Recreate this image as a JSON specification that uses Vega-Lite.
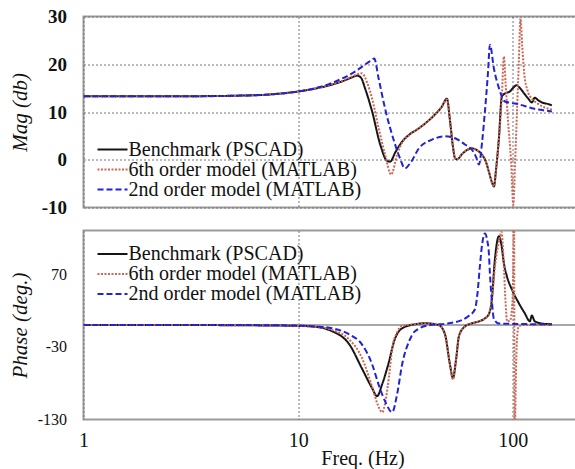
{
  "$schema": "https://vega.github.io/schema/vega-lite/v6.json",
  "padding": {"left": 7.5, "top": 6.5, "right": 0, "bottom": 0},
  "background": "white",
  "config": {
    "view": {"stroke": "#9a9a9a", "strokeWidth": 2},
    "font": "Times New Roman, Liberation Serif, DejaVu Serif, serif",
    "axis": {
      "labelFont": "Times New Roman, Liberation Serif, DejaVu Serif, serif", "labelFontSize": 20, "labelColor": "#111111",
      "titleFont": "Times New Roman, Liberation Serif, DejaVu Serif, serif", "titleFontSize": 21, "titleColor": "#111111", "titleFontWeight": "normal",
      "gridColor": "#777777", "gridDash": [2, 2], "gridWidth": 1,
      "domain": false, "ticks": false, "labelFlush": false
    },
    "legend": {
      "orient": "none", "title": null, "labelFont": "Times New Roman, Liberation Serif, DejaVu Serif, serif", "labelFontSize": 20, "labelColor": "#111111",
      "symbolType": "M-3,0H3", "symbolSize": 100, "symbolStrokeWidth": 2, "labelOffset": 6, "padding": 0, "rowPadding": 0, "labelLimit": 400
    }
  },
  "datasets": {
    "mag": [
      {"s": "Benchmark (PSCAD)", "f": 1, "v": 13.3}, {"s": "Benchmark (PSCAD)", "f": 1.5, "v": 13.3}, {"s": "Benchmark (PSCAD)", "f": 2, "v": 13.3}, {"s": "Benchmark (PSCAD)", "f": 3, "v": 13.3}, {"s": "Benchmark (PSCAD)", "f": 4, "v": 13.35}, {"s": "Benchmark (PSCAD)", "f": 5, "v": 13.4}, {"s": "Benchmark (PSCAD)", "f": 6, "v": 13.5}, {"s": "Benchmark (PSCAD)", "f": 7, "v": 13.6}, {"s": "Benchmark (PSCAD)", "f": 8, "v": 13.8}, {"s": "Benchmark (PSCAD)", "f": 10, "v": 14.3}, {"s": "Benchmark (PSCAD)", "f": 12, "v": 14.9}, {"s": "Benchmark (PSCAD)", "f": 14, "v": 15.6}, {"s": "Benchmark (PSCAD)", "f": 16, "v": 16.4}, {"s": "Benchmark (PSCAD)", "f": 17.5, "v": 17.1}, {"s": "Benchmark (PSCAD)", "f": 18.8, "v": 17.6}, {"s": "Benchmark (PSCAD)", "f": 19.6, "v": 17.2}, {"s": "Benchmark (PSCAD)", "f": 20.5, "v": 14.9}, {"s": "Benchmark (PSCAD)", "f": 22.1, "v": 10.1}, {"s": "Benchmark (PSCAD)", "f": 24.1, "v": 3.2}, {"s": "Benchmark (PSCAD)", "f": 25.9, "v": -0.2}, {"s": "Benchmark (PSCAD)", "f": 26.8, "v": -0.4}, {"s": "Benchmark (PSCAD)", "f": 28.3, "v": 1.5}, {"s": "Benchmark (PSCAD)", "f": 30.5, "v": 3.8}, {"s": "Benchmark (PSCAD)", "f": 33, "v": 5.3}, {"s": "Benchmark (PSCAD)", "f": 36.5, "v": 6.6}, {"s": "Benchmark (PSCAD)", "f": 40, "v": 8.0}, {"s": "Benchmark (PSCAD)", "f": 43.4, "v": 9.5}, {"s": "Benchmark (PSCAD)", "f": 46.5, "v": 11.0}, {"s": "Benchmark (PSCAD)", "f": 49.3, "v": 12.8}, {"s": "Benchmark (PSCAD)", "f": 51, "v": 8}, {"s": "Benchmark (PSCAD)", "f": 52.5, "v": 3}, {"s": "Benchmark (PSCAD)", "f": 53.8, "v": 0.3}, {"s": "Benchmark (PSCAD)", "f": 55, "v": 0.1}, {"s": "Benchmark (PSCAD)", "f": 58, "v": 1.2}, {"s": "Benchmark (PSCAD)", "f": 61, "v": 2.0}, {"s": "Benchmark (PSCAD)", "f": 64.4, "v": 2.4}, {"s": "Benchmark (PSCAD)", "f": 68, "v": 2.0}, {"s": "Benchmark (PSCAD)", "f": 71.7, "v": 1.1}, {"s": "Benchmark (PSCAD)", "f": 75, "v": -0.5}, {"s": "Benchmark (PSCAD)", "f": 77.3, "v": -2.5}, {"s": "Benchmark (PSCAD)", "f": 80, "v": -4.8}, {"s": "Benchmark (PSCAD)", "f": 81.6, "v": -5.6}, {"s": "Benchmark (PSCAD)", "f": 83.5, "v": -2}, {"s": "Benchmark (PSCAD)", "f": 86.1, "v": 4.5}, {"s": "Benchmark (PSCAD)", "f": 88.8, "v": 13.2}, {"s": "Benchmark (PSCAD)", "f": 92, "v": 13.9}, {"s": "Benchmark (PSCAD)", "f": 96.8, "v": 14.3}, {"s": "Benchmark (PSCAD)", "f": 100, "v": 15.0}, {"s": "Benchmark (PSCAD)", "f": 104, "v": 15.6}, {"s": "Benchmark (PSCAD)", "f": 108, "v": 15.0}, {"s": "Benchmark (PSCAD)", "f": 113.7, "v": 13.7}, {"s": "Benchmark (PSCAD)", "f": 118, "v": 12.8}, {"s": "Benchmark (PSCAD)", "f": 122.5, "v": 12.0}, {"s": "Benchmark (PSCAD)", "f": 126.5, "v": 13.0}, {"s": "Benchmark (PSCAD)", "f": 131, "v": 12.5}, {"s": "Benchmark (PSCAD)", "f": 136.5, "v": 12.0}, {"s": "Benchmark (PSCAD)", "f": 145, "v": 11.7}, {"s": "Benchmark (PSCAD)", "f": 152, "v": 11.4},

      {"s": "6th order model (MATLAB)", "f": 1, "v": 13.3}, {"s": "6th order model (MATLAB)", "f": 2, "v": 13.3}, {"s": "6th order model (MATLAB)", "f": 3, "v": 13.3}, {"s": "6th order model (MATLAB)", "f": 5, "v": 13.4}, {"s": "6th order model (MATLAB)", "f": 7, "v": 13.6}, {"s": "6th order model (MATLAB)", "f": 10, "v": 14.3}, {"s": "6th order model (MATLAB)", "f": 12, "v": 14.9}, {"s": "6th order model (MATLAB)", "f": 14, "v": 15.7}, {"s": "6th order model (MATLAB)", "f": 16, "v": 16.5}, {"s": "6th order model (MATLAB)", "f": 18, "v": 17.5}, {"s": "6th order model (MATLAB)", "f": 19.8, "v": 18.1}, {"s": "6th order model (MATLAB)", "f": 21, "v": 16.0}, {"s": "6th order model (MATLAB)", "f": 22.1, "v": 12.8}, {"s": "6th order model (MATLAB)", "f": 23.7, "v": 6.6}, {"s": "6th order model (MATLAB)", "f": 25.4, "v": 1.1}, {"s": "6th order model (MATLAB)", "f": 27.1, "v": -3.1}, {"s": "6th order model (MATLAB)", "f": 28.9, "v": 1.1}, {"s": "6th order model (MATLAB)", "f": 30.5, "v": 3.6}, {"s": "6th order model (MATLAB)", "f": 33, "v": 5.2}, {"s": "6th order model (MATLAB)", "f": 36.5, "v": 6.6}, {"s": "6th order model (MATLAB)", "f": 40, "v": 8.0}, {"s": "6th order model (MATLAB)", "f": 43.4, "v": 9.5}, {"s": "6th order model (MATLAB)", "f": 46.5, "v": 11.0}, {"s": "6th order model (MATLAB)", "f": 49.3, "v": 12.6}, {"s": "6th order model (MATLAB)", "f": 51, "v": 8}, {"s": "6th order model (MATLAB)", "f": 52.5, "v": 3}, {"s": "6th order model (MATLAB)", "f": 53.8, "v": 0.3}, {"s": "6th order model (MATLAB)", "f": 55, "v": 0.1}, {"s": "6th order model (MATLAB)", "f": 58, "v": 1.2}, {"s": "6th order model (MATLAB)", "f": 61, "v": 2.0}, {"s": "6th order model (MATLAB)", "f": 64.4, "v": 2.4}, {"s": "6th order model (MATLAB)", "f": 68, "v": 2.0}, {"s": "6th order model (MATLAB)", "f": 71.7, "v": 1.1}, {"s": "6th order model (MATLAB)", "f": 75, "v": -0.5}, {"s": "6th order model (MATLAB)", "f": 77.3, "v": -2.5}, {"s": "6th order model (MATLAB)", "f": 80, "v": -4.8}, {"s": "6th order model (MATLAB)", "f": 81.6, "v": -5.6}, {"s": "6th order model (MATLAB)", "f": 83.5, "v": -2}, {"s": "6th order model (MATLAB)", "f": 86.1, "v": 4.5}, {"s": "6th order model (MATLAB)", "f": 88.8, "v": 13.0}, {"s": "6th order model (MATLAB)", "f": 90.8, "v": 21.6}, {"s": "6th order model (MATLAB)", "f": 92.5, "v": 16}, {"s": "6th order model (MATLAB)", "f": 95, "v": 8}, {"s": "6th order model (MATLAB)", "f": 98, "v": 0}, {"s": "6th order model (MATLAB)", "f": 100.5, "v": -9.4}, {"s": "6th order model (MATLAB)", "f": 102.5, "v": 0}, {"s": "6th order model (MATLAB)", "f": 104.5, "v": 10}, {"s": "6th order model (MATLAB)", "f": 106.5, "v": 20}, {"s": "6th order model (MATLAB)", "f": 108.5, "v": 29.6}, {"s": "6th order model (MATLAB)", "f": 110.5, "v": 24}, {"s": "6th order model (MATLAB)", "f": 113, "v": 18}, {"s": "6th order model (MATLAB)", "f": 117, "v": 14.5}, {"s": "6th order model (MATLAB)", "f": 122.5, "v": 12.8}, {"s": "6th order model (MATLAB)", "f": 130, "v": 11.8}, {"s": "6th order model (MATLAB)", "f": 140, "v": 11.0}, {"s": "6th order model (MATLAB)", "f": 152, "v": 10.5},

      {"s": "2nd order model (MATLAB)", "f": 1, "v": 13.3}, {"s": "2nd order model (MATLAB)", "f": 2, "v": 13.3}, {"s": "2nd order model (MATLAB)", "f": 3, "v": 13.3}, {"s": "2nd order model (MATLAB)", "f": 5, "v": 13.4}, {"s": "2nd order model (MATLAB)", "f": 7, "v": 13.6}, {"s": "2nd order model (MATLAB)", "f": 10, "v": 14.3}, {"s": "2nd order model (MATLAB)", "f": 12, "v": 15.0}, {"s": "2nd order model (MATLAB)", "f": 14, "v": 15.9}, {"s": "2nd order model (MATLAB)", "f": 16, "v": 17.0}, {"s": "2nd order model (MATLAB)", "f": 18, "v": 18.2}, {"s": "2nd order model (MATLAB)", "f": 20, "v": 19.6}, {"s": "2nd order model (MATLAB)", "f": 21.5, "v": 20.6}, {"s": "2nd order model (MATLAB)", "f": 22.6, "v": 21.2}, {"s": "2nd order model (MATLAB)", "f": 23.7, "v": 17.0}, {"s": "2nd order model (MATLAB)", "f": 25.4, "v": 10.7}, {"s": "2nd order model (MATLAB)", "f": 28.0, "v": 3.8}, {"s": "2nd order model (MATLAB)", "f": 29.8, "v": 0.3}, {"s": "2nd order model (MATLAB)", "f": 31.4, "v": -1.8}, {"s": "2nd order model (MATLAB)", "f": 33.5, "v": -0.5}, {"s": "2nd order model (MATLAB)", "f": 36.5, "v": 2.4}, {"s": "2nd order model (MATLAB)", "f": 42, "v": 4.2}, {"s": "2nd order model (MATLAB)", "f": 48.3, "v": 4.9}, {"s": "2nd order model (MATLAB)", "f": 53.8, "v": 4.5}, {"s": "2nd order model (MATLAB)", "f": 59.8, "v": 3.2}, {"s": "2nd order model (MATLAB)", "f": 64.4, "v": 2.1}, {"s": "2nd order model (MATLAB)", "f": 67.5, "v": 0.5}, {"s": "2nd order model (MATLAB)", "f": 69.5, "v": -1.0}, {"s": "2nd order model (MATLAB)", "f": 72, "v": 4}, {"s": "2nd order model (MATLAB)", "f": 74.1, "v": 10.1}, {"s": "2nd order model (MATLAB)", "f": 76.5, "v": 18}, {"s": "2nd order model (MATLAB)", "f": 78.2, "v": 24.1}, {"s": "2nd order model (MATLAB)", "f": 81.6, "v": 19.1}, {"s": "2nd order model (MATLAB)", "f": 86.1, "v": 15.0}, {"s": "2nd order model (MATLAB)", "f": 91.8, "v": 12.2}, {"s": "2nd order model (MATLAB)", "f": 98, "v": 11.9}, {"s": "2nd order model (MATLAB)", "f": 106.6, "v": 11.6}, {"s": "2nd order model (MATLAB)", "f": 122.5, "v": 10.8}, {"s": "2nd order model (MATLAB)", "f": 137, "v": 10.4}, {"s": "2nd order model (MATLAB)", "f": 152, "v": 10.1}
    ],
    "phase": [
      {"s": "Benchmark (PSCAD)", "f": 1, "v": 0}, {"s": "Benchmark (PSCAD)", "f": 2, "v": 0}, {"s": "Benchmark (PSCAD)", "f": 3, "v": 0}, {"s": "Benchmark (PSCAD)", "f": 5, "v": -0.3}, {"s": "Benchmark (PSCAD)", "f": 7, "v": -0.6}, {"s": "Benchmark (PSCAD)", "f": 10, "v": -1.2}, {"s": "Benchmark (PSCAD)", "f": 11.6, "v": -2}, {"s": "Benchmark (PSCAD)", "f": 14.4, "v": -8.6}, {"s": "Benchmark (PSCAD)", "f": 17.3, "v": -26.6}, {"s": "Benchmark (PSCAD)", "f": 19.8, "v": -59.6}, {"s": "Benchmark (PSCAD)", "f": 22.1, "v": -87}, {"s": "Benchmark (PSCAD)", "f": 23.3, "v": -98}, {"s": "Benchmark (PSCAD)", "f": 24.6, "v": -81.7}, {"s": "Benchmark (PSCAD)", "f": 26.5, "v": -50}, {"s": "Benchmark (PSCAD)", "f": 28.0, "v": -22}, {"s": "Benchmark (PSCAD)", "f": 30.5, "v": -4.5}, {"s": "Benchmark (PSCAD)", "f": 35.0, "v": 1}, {"s": "Benchmark (PSCAD)", "f": 39.0, "v": 2.4}, {"s": "Benchmark (PSCAD)", "f": 45.3, "v": -0.3}, {"s": "Benchmark (PSCAD)", "f": 48.3, "v": -13}, {"s": "Benchmark (PSCAD)", "f": 50.9, "v": -54}, {"s": "Benchmark (PSCAD)", "f": 52.6, "v": -73}, {"s": "Benchmark (PSCAD)", "f": 54.5, "v": -45}, {"s": "Benchmark (PSCAD)", "f": 56.1, "v": -15}, {"s": "Benchmark (PSCAD)", "f": 59.8, "v": -2}, {"s": "Benchmark (PSCAD)", "f": 64, "v": 2}, {"s": "Benchmark (PSCAD)", "f": 69.5, "v": 5}, {"s": "Benchmark (PSCAD)", "f": 74, "v": 9}, {"s": "Benchmark (PSCAD)", "f": 77.3, "v": 15}, {"s": "Benchmark (PSCAD)", "f": 79.8, "v": 35}, {"s": "Benchmark (PSCAD)", "f": 82.5, "v": 91}, {"s": "Benchmark (PSCAD)", "f": 86.1, "v": 122}, {"s": "Benchmark (PSCAD)", "f": 88.5, "v": 110}, {"s": "Benchmark (PSCAD)", "f": 90.8, "v": 85}, {"s": "Benchmark (PSCAD)", "f": 93.8, "v": 67}, {"s": "Benchmark (PSCAD)", "f": 98.9, "v": 49}, {"s": "Benchmark (PSCAD)", "f": 106.6, "v": 30}, {"s": "Benchmark (PSCAD)", "f": 113.7, "v": 16}, {"s": "Benchmark (PSCAD)", "f": 120, "v": 5}, {"s": "Benchmark (PSCAD)", "f": 122.5, "v": 13}, {"s": "Benchmark (PSCAD)", "f": 126.5, "v": 5}, {"s": "Benchmark (PSCAD)", "f": 136.5, "v": 2}, {"s": "Benchmark (PSCAD)", "f": 152, "v": 1},

      {"s": "6th order model (MATLAB)", "f": 1, "v": 0}, {"s": "6th order model (MATLAB)", "f": 3, "v": 0}, {"s": "6th order model (MATLAB)", "f": 5, "v": -0.3}, {"s": "6th order model (MATLAB)", "f": 7, "v": -0.6}, {"s": "6th order model (MATLAB)", "f": 10, "v": -1.2}, {"s": "6th order model (MATLAB)", "f": 12, "v": -2.5}, {"s": "6th order model (MATLAB)", "f": 14.4, "v": -7}, {"s": "6th order model (MATLAB)", "f": 17.3, "v": -20}, {"s": "6th order model (MATLAB)", "f": 19.8, "v": -45}, {"s": "6th order model (MATLAB)", "f": 22.1, "v": -85}, {"s": "6th order model (MATLAB)", "f": 23.5, "v": -110}, {"s": "6th order model (MATLAB)", "f": 24.6, "v": -120}, {"s": "6th order model (MATLAB)", "f": 25.5, "v": -105}, {"s": "6th order model (MATLAB)", "f": 26.5, "v": -70}, {"s": "6th order model (MATLAB)", "f": 27.4, "v": -33}, {"s": "6th order model (MATLAB)", "f": 28.9, "v": -10}, {"s": "6th order model (MATLAB)", "f": 30.5, "v": -1}, {"s": "6th order model (MATLAB)", "f": 35, "v": 1}, {"s": "6th order model (MATLAB)", "f": 39, "v": 2.4}, {"s": "6th order model (MATLAB)", "f": 45.3, "v": -0.3}, {"s": "6th order model (MATLAB)", "f": 48.3, "v": -13}, {"s": "6th order model (MATLAB)", "f": 50.9, "v": -54}, {"s": "6th order model (MATLAB)", "f": 52.6, "v": -75}, {"s": "6th order model (MATLAB)", "f": 54.5, "v": -45}, {"s": "6th order model (MATLAB)", "f": 56.1, "v": -15}, {"s": "6th order model (MATLAB)", "f": 59.8, "v": -2}, {"s": "6th order model (MATLAB)", "f": 64, "v": 2}, {"s": "6th order model (MATLAB)", "f": 69.5, "v": 5}, {"s": "6th order model (MATLAB)", "f": 74, "v": 9}, {"s": "6th order model (MATLAB)", "f": 77.3, "v": 15}, {"s": "6th order model (MATLAB)", "f": 79.8, "v": 35}, {"s": "6th order model (MATLAB)", "f": 82.5, "v": 80}, {"s": "6th order model (MATLAB)", "f": 86.1, "v": 115}, {"s": "6th order model (MATLAB)", "f": 88.5, "v": 128}, {"s": "6th order model (MATLAB)", "f": 90.5, "v": 90}, {"s": "6th order model (MATLAB)", "f": 92.5, "v": 30}, {"s": "6th order model (MATLAB)", "f": 94, "v": 5}, {"s": "6th order model (MATLAB)", "f": 97, "v": 6}, {"s": "6th order model (MATLAB)", "f": 99.5, "v": 30}, {"s": "6th order model (MATLAB)", "f": 100.5, "v": 90}, {"s": "6th order model (MATLAB)", "f": 101.3, "v": 179}, {"s": "6th order model (MATLAB)", "f": 101.8, "v": -179}, {"s": "6th order model (MATLAB)", "f": 103, "v": -90}, {"s": "6th order model (MATLAB)", "f": 104.5, "v": -20}, {"s": "6th order model (MATLAB)", "f": 106.5, "v": -2}, {"s": "6th order model (MATLAB)", "f": 112, "v": 0}, {"s": "6th order model (MATLAB)", "f": 130, "v": 0}, {"s": "6th order model (MATLAB)", "f": 152, "v": 0},

      {"s": "2nd order model (MATLAB)", "f": 1, "v": 0}, {"s": "2nd order model (MATLAB)", "f": 3, "v": 0}, {"s": "2nd order model (MATLAB)", "f": 5, "v": 0}, {"s": "2nd order model (MATLAB)", "f": 7, "v": -0.3}, {"s": "2nd order model (MATLAB)", "f": 10, "v": -0.8}, {"s": "2nd order model (MATLAB)", "f": 12, "v": -2}, {"s": "2nd order model (MATLAB)", "f": 14.4, "v": -4.5}, {"s": "2nd order model (MATLAB)", "f": 17.3, "v": -13}, {"s": "2nd order model (MATLAB)", "f": 19.8, "v": -26.6}, {"s": "2nd order model (MATLAB)", "f": 22.1, "v": -54}, {"s": "2nd order model (MATLAB)", "f": 23.7, "v": -82}, {"s": "2nd order model (MATLAB)", "f": 25.4, "v": -105}, {"s": "2nd order model (MATLAB)", "f": 27.4, "v": -120}, {"s": "2nd order model (MATLAB)", "f": 28.9, "v": -95}, {"s": "2nd order model (MATLAB)", "f": 30.5, "v": -54}, {"s": "2nd order model (MATLAB)", "f": 32.9, "v": -22}, {"s": "2nd order model (MATLAB)", "f": 35, "v": -8.6}, {"s": "2nd order model (MATLAB)", "f": 40.8, "v": -0.3}, {"s": "2nd order model (MATLAB)", "f": 50.4, "v": 2.4}, {"s": "2nd order model (MATLAB)", "f": 57.8, "v": 6.6}, {"s": "2nd order model (MATLAB)", "f": 62, "v": 12}, {"s": "2nd order model (MATLAB)", "f": 66.6, "v": 21.7}, {"s": "2nd order model (MATLAB)", "f": 68.5, "v": 45}, {"s": "2nd order model (MATLAB)", "f": 70.2, "v": 81}, {"s": "2nd order model (MATLAB)", "f": 72, "v": 112}, {"s": "2nd order model (MATLAB)", "f": 74.1, "v": 126}, {"s": "2nd order model (MATLAB)", "f": 76, "v": 116}, {"s": "2nd order model (MATLAB)", "f": 77.3, "v": 99}, {"s": "2nd order model (MATLAB)", "f": 78.2, "v": 70}, {"s": "2nd order model (MATLAB)", "f": 80, "v": 30}, {"s": "2nd order model (MATLAB)", "f": 81.6, "v": 8}, {"s": "2nd order model (MATLAB)", "f": 86.1, "v": 2}, {"s": "2nd order model (MATLAB)", "f": 100, "v": 1.5}, {"s": "2nd order model (MATLAB)", "f": 152, "v": 1}
    ]
  },
  "spacing": 11,
  "resolve": {"scale": {"color": "independent", "strokeDash": "independent"}},
  "vconcat": [
    {
      "width": 494,
      "height": 191,
      "data": {"name": "mag"},
      "mark": {"type": "line", "interpolate": "monotone", "clip": true, "strokeWidth": 2},
      "encoding": {
        "x": {"field": "f", "type": "quantitative", "scale": {"type": "log", "domain": [1, 200]},
              "axis": {"values": [1, 10, 100], "labels": false, "title": null, "grid": true}},
        "y": {"field": "v", "type": "quantitative", "scale": {"domain": [-10, 30], "nice": false},
              "axis": {"values": [-10, 0, 10, 20, 30], "title": "Mag (db)", "titleFontStyle": "italic",
                       "labelExpr": "datum.value + ''",
                       "labelPadding": 17, "labelFontWeight": "bold", "labelFontSize": 19,
                       "titleX": -63, "titleBaseline": "middle"}},
        "color": {"field": "s", "type": "nominal", "sort": null,
                  "scale": {"domain": ["Benchmark (PSCAD)", "6th order model (MATLAB)", "2nd order model (MATLAB)"], "range": ["#151515", "#cc6655", "#2222d6"]},
                  "legend": {"legendX": 19, "legendY": 123}},
        "strokeDash": {"field": "s", "type": "nominal", "sort": null,
                  "scale": {"domain": ["Benchmark (PSCAD)", "6th order model (MATLAB)", "2nd order model (MATLAB)"], "range": [[1, 0], [2, 1.5], [6, 3]]},
                  "legend": {"legendX": 19, "legendY": 123}}
      }
    },
    {
      "width": 494,
      "height": 189,
      "data": {"name": "phase"},
      "layer": [
        {
          "mark": {"type": "rule", "color": "#a8a8a8", "strokeWidth": 1.5},
          "encoding": {"y": {"datum": 0}}
        },
        {
          "mark": {"type": "line", "interpolate": "monotone", "clip": true, "strokeWidth": 2},
          "encoding": {
            "x": {"field": "f", "type": "quantitative", "scale": {"type": "log", "domain": [1, 200]},
                  "axis": {"values": [1, 10, 100], "title": "Freq. (Hz)", "grid": true, "labelPadding": 11,
                           "titleX": 279, "titleY": 39, "titleBaseline": "middle", "titleFontSize": 20}},
            "y": {"field": "v", "type": "quantitative", "scale": {"domain": [-130, 130], "nice": false},
                  "axis": {"values": [-130, -30, 70], "title": "Phase (deg.)", "titleFontStyle": "italic",
                           "labelExpr": "datum.value + ''",
                           "labelPadding": 17, "labelFontSize": 16,
                           "titleX": -63, "titleBaseline": "middle"}},
            "color": {"field": "s", "type": "nominal", "sort": null,
                      "scale": {"domain": ["Benchmark (PSCAD)", "6th order model (MATLAB)", "2nd order model (MATLAB)"], "range": ["#151515", "#cc6655", "#2222d6"]},
                      "legend": {"legendX": 19, "legendY": 13.5}},
            "strokeDash": {"field": "s", "type": "nominal", "sort": null,
                      "scale": {"domain": ["Benchmark (PSCAD)", "6th order model (MATLAB)", "2nd order model (MATLAB)"], "range": [[1, 0], [2, 1.5], [6, 3]]},
                      "legend": {"legendX": 19, "legendY": 13.5}}
          }
        }
      ]
    }
  ]
}
